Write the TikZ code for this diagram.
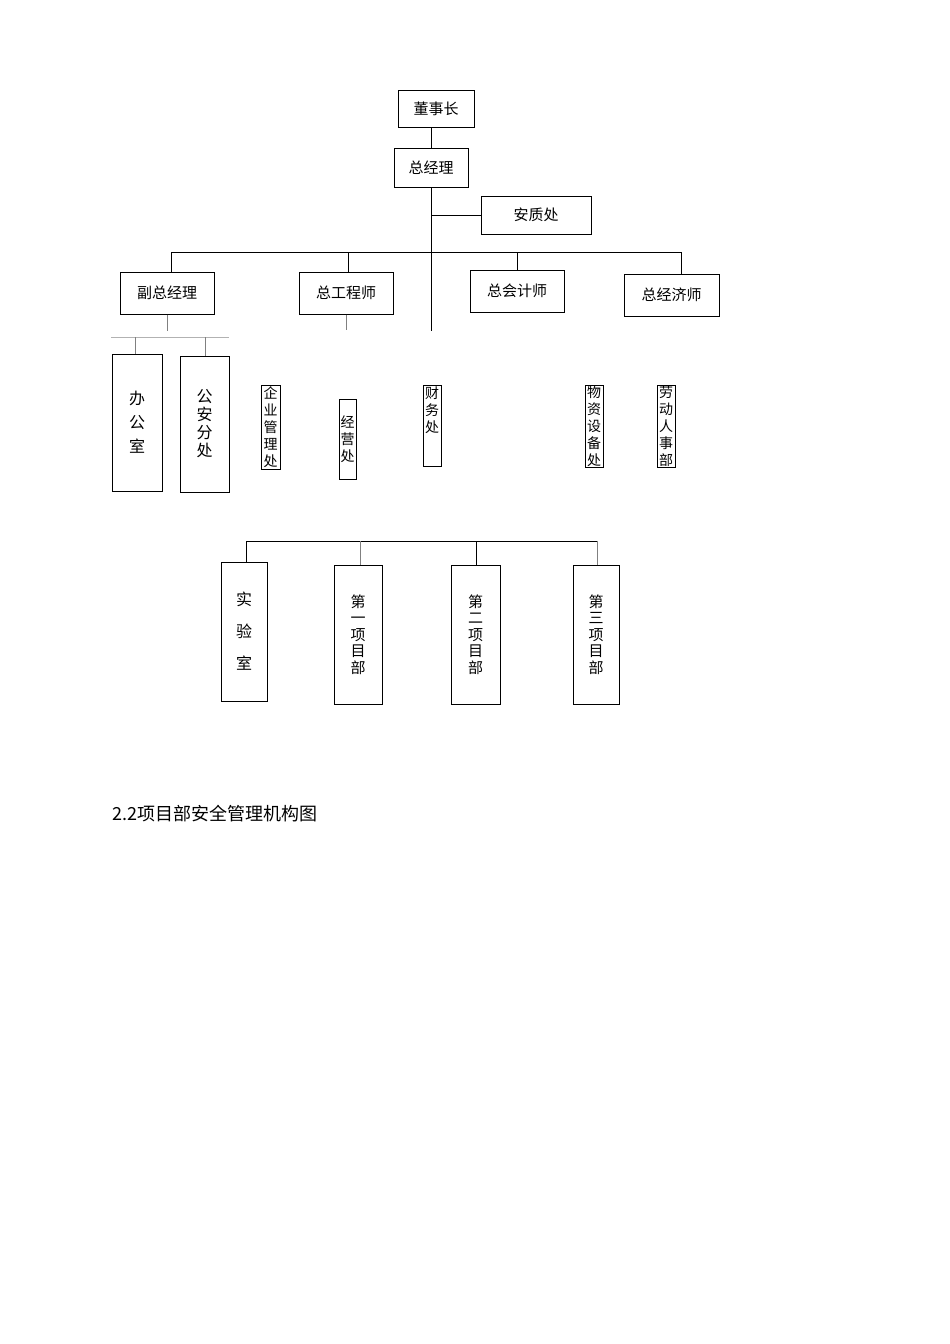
\documentclass[tikz,border=0pt]{standalone}
\usepackage{fontspec}
\newfontfamily\cjk{Noto Sans CJK SC}
\begin{document}
\begin{tikzpicture}[x=1pt,y=-1pt,
  box/.style={draw,line width=1pt,inner sep=0pt,align=center,font=\cjk\fontsize{15}{17}\selectfont},
  ln/.style={line width=1pt},
  gln/.style={line width=1pt,draw=gray}]
\useasboundingbox (0,0) rectangle (950,1344);
\newcommand{\bx}[6]{\node[box,minimum width={#4-#2},minimum height={#5-#3},#6] (#1) at ({(#2+#4)/2},{(#3+#5)/2})}
\bx{dsz}{398}{90}{474}{127}{}{董事长};
\bx{zjl}{394}{148}{468}{187}{}{总经理};
\bx{azc}{481}{196}{591}{234}{}{安质处};
\bx{fzjl}{120}{272}{214}{314}{}{副总经理};
\bx{zgcs}{299}{272}{393}{314}{}{总工程师};
\bx{zkjs}{470}{270}{564}{312}{}{总会计师};
\bx{zjjs}{624}{274}{719}{316}{}{总经济师};
\bx{bgs}{112}{354}{162}{491}{font=\cjk\fontsize{16}{24}\selectfont}{办\\公\\室};
\bx{gafc}{180}{356}{229}{492}{font=\cjk\fontsize{16}{18}\selectfont}{公\\安\\分\\处};
\bx{qygl}{261}{385}{280}{469}{font=\cjk\fontsize{14}{17}\selectfont,line width=0.5pt}{企\\业\\管\\理\\处};
\bx{jyc}{339}{387}{356}{467}{font=\cjk\fontsize{14}{17}\selectfont,line width=0.5pt,text depth=0pt,yshift=-12}{经\\营\\处};
\bx{cwc}{423}{385}{441}{466}{font=\cjk\fontsize{14}{17}\selectfont,line width=0.5pt}{};
\node[font=\cjk\fontsize{14}{17}\selectfont,align=center,inner sep=0pt,anchor=north] (cwt) at (432,387) {财\\务\\处};
\bx{wzsb}{585}{385}{603}{467}{font=\cjk\fontsize{14}{17}\selectfont,line width=0.5pt}{物\\资\\设\\备\\处};
\bx{ldrs}{657}{385}{675}{467}{font=\cjk\fontsize{14}{17}\selectfont,line width=0.5pt}{劳\\动\\人\\事\\部};
\bx{sys}{221}{562}{267}{701}{font=\cjk\fontsize{16}{32}\selectfont}{实\\验\\室};
\bx{p1}{334}{565}{382}{704}{font=\cjk\fontsize{15}{16.5}\selectfont}{第\\一\\项\\目\\部};
\bx{p2}{451}{565}{500}{704}{font=\cjk\fontsize{15}{16.5}\selectfont}{第\\二\\项\\目\\部};
\bx{p3}{573}{565}{619}{704}{font=\cjk\fontsize{15}{16.5}\selectfont}{第\\三\\项\\目\\部};
% top connectors
\draw[ln] (dsz.south) -- (zjl.south |- dsz.south) -- (zjl.north);
\coordinate (tb) at (431,331);
\draw[ln] (431,187) -- (tb);
\draw[ln] (431,215) -- (azc.west);
\coordinate (hl) at (171,252);
\coordinate (hr) at (681,252);
\draw[ln] (hl) -- (hr);
\draw[ln] (hl) -- (hl |- fzjl.north);
\draw[ln] (348,252) -- (348,272);
\draw[ln] (517,252) -- (zkjs.north);
\draw[ln] (hr) -- (hr |- zjjs.north);
\draw[gln] (fzjl.south) -- (167,331);
\draw[gln] (zgcs.south) -- (346,330);
\coordinate (sl) at (111,337);
\coordinate (sr) at (229,337);
\draw[line width=0.6pt,draw=gray!60] (sl) -- (sr);
\draw[gln] (135,337) -- (bgs.north -| 135,0);
\draw[gln] (205,337) -- (205,356);
% bottom
\coordinate (bl) at (246,541);
\coordinate (br) at (597,541);
\draw[ln] (bl) -- (br);
\draw[ln] (bl) -- (sys.north -| bl);
\draw[gln] (360,541) -- (360,565);
\draw[ln] (476,541) -- (476,565);
\draw[gln] (br) -- (597,565);
\node[anchor=west,inner sep=0pt,font=\cjk\fontsize{18}{20}\selectfont] (cap) at (112,814) {2.2项目部安全管理机构图};
\end{tikzpicture}
\end{document}
